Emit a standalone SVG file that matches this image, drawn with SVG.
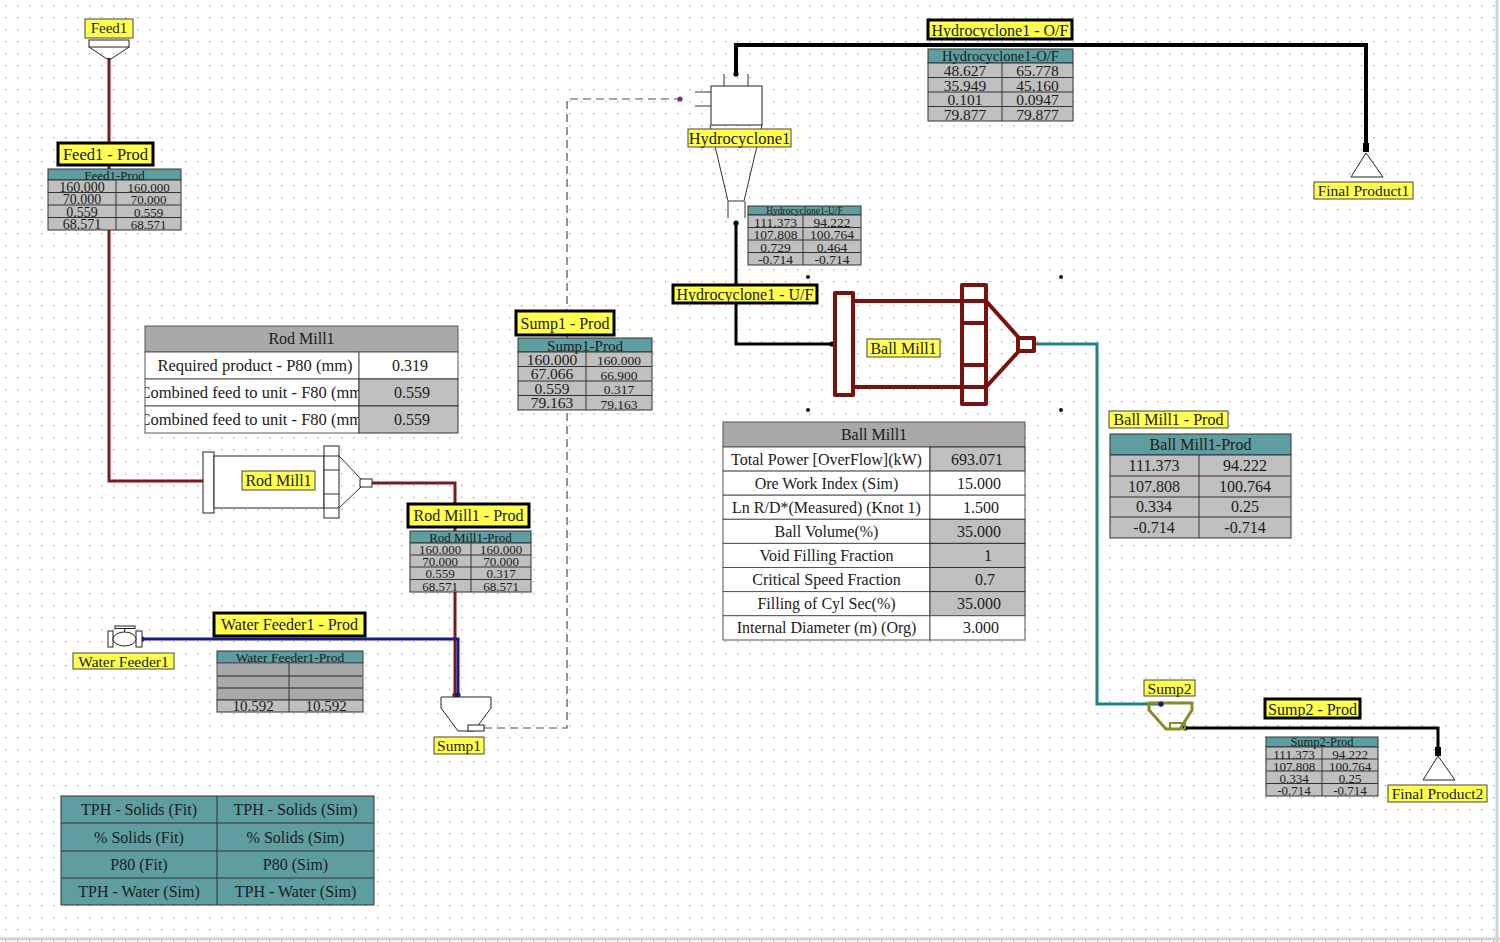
<svg xmlns="http://www.w3.org/2000/svg" width="1500" height="942" viewBox="0 0 1500 942">
<defs>
<pattern id="grid" width="12" height="12" patternUnits="userSpaceOnUse">
<rect x="5" y="5" width="1.3" height="1.3" fill="#a4a4a4"/>
</pattern>
<clipPath id="rmclip1"><rect x="145" y="379" width="214" height="27"/></clipPath>
<clipPath id="rmclip2"><rect x="145" y="406" width="214" height="27"/></clipPath>
<marker id="dot" viewBox="0 0 6 6" refX="3" refY="3" markerWidth="6" markerHeight="6" markerUnits="userSpaceOnUse"><circle cx="3" cy="3" r="2.6" fill="context-stroke"/></marker>
</defs>
<style>
.t{font-family:"Liberation Serif","Times New Roman",serif;fill:#1a1a1a;text-anchor:middle}
.lbl{fill:#ffff50;stroke:#444;stroke-width:1}
.lblb{fill:#ffff50;stroke:#000;stroke-width:3}
.teal{fill:#5f9ea0;stroke:#333;stroke-width:1}
.g{fill:#c0c0c0;stroke:#333;stroke-width:1}
.gd{fill:#a9a9a9;stroke:#555;stroke-width:1}
.w{fill:#ffffff;stroke:#555;stroke-width:1}
.ln{stroke:#333;stroke-width:1}
.eq{fill:#fff;stroke:#222;stroke-width:1}
.red{fill:none;stroke:#7a1a1a;stroke-width:3}
.blue{fill:none;stroke:#1a1a86;stroke-width:3}
.blk{fill:none;stroke:#000;stroke-width:3}
.tealc{fill:none;stroke:#1f8085;stroke-width:3}
.dash{fill:none;stroke:#6a3a6a;stroke-width:1.2;stroke-dasharray:8 5}
.bm{fill:#fff;stroke:#7a1010;stroke-width:4;stroke-linejoin:round}
</style>
<rect width="1500" height="942" fill="#ffffff"/>
<rect width="1500" height="942" fill="url(#grid)"/>
<line x1="1497" y1="0" x2="1497" y2="942" stroke="#c8d4dc" stroke-width="3"/>
<line x1="0" y1="939" x2="1500" y2="939" stroke="#d0d0d0" stroke-width="3"/>

<!-- connectors -->
<g id="connectors">
<polyline class="red" points="109,58 109,481 205,481" marker-end="url(#dot)"/>
<polyline class="red" points="372,483 455,483 455,695" marker-end="url(#dot)"/>
<polyline class="blue" points="142,639 458,639 458,695" marker-start="url(#dot)" marker-end="url(#dot)"/>
<polyline class="dash" points="484,728 567,728 567,99 680,99" marker-end="url(#dot)"/>
<polyline class="blk" style="stroke-width:4" points="736,74 736,45 1366,45 1366,150" marker-start="url(#dot)"/>
<rect x="1363" y="143" width="6" height="9" fill="#000"/>
<polyline class="blk" points="736,223 736,344 832,344" marker-start="url(#dot)" marker-end="url(#dot)"/>
<polyline class="tealc" points="1034,344 1097,344 1097,704 1161,704" marker-end="url(#dot)"/>
<polyline class="blk" points="1185,728 1438,728 1438,754" marker-start="url(#dot)"/>
<rect x="1435" y="747" width="6" height="9" fill="#000"/>
</g>

<!-- Feed1 -->
<g id="feed1">
<rect x="89" y="40" width="40" height="7" class="eq"/>
<polyline points="89,47 107,59 111,59 129,47" fill="none" stroke="#222" stroke-width="1"/>
<rect x="85" y="19" width="48" height="19" class="lbl"/>
<text class="t" x="109" y="33" font-size="15">Feed1</text>
</g>

<!-- Rod Mill1 -->
<g id="rodmill1">
<rect x="203" y="452" width="11" height="61" class="eq"/>
<rect x="214" y="456" width="110" height="52" class="eq"/>
<rect x="324" y="446" width="15" height="72" class="eq"/>
<line x1="324" y1="456" x2="339" y2="456" class="ln"/>
<line x1="324" y1="470" x2="339" y2="470" class="ln"/>
<line x1="324" y1="494" x2="339" y2="494" class="ln"/>
<line x1="324" y1="508" x2="339" y2="508" class="ln"/>
<line x1="339" y1="456" x2="361" y2="479" class="ln"/>
<line x1="339" y1="508" x2="361" y2="487" class="ln"/>
<rect x="360" y="479" width="12" height="8" class="eq"/>
<rect x="242" y="471" width="73" height="19" class="lbl"/>
<text class="t" x="278.5" y="486" font-size="16">Rod Mill1</text>
</g>

<!-- Water Feeder1 -->
<g id="waterfeeder1">
<rect x="108" y="631" width="5" height="16" class="eq"/>
<rect x="136" y="631" width="6" height="16" class="eq"/>
<ellipse cx="124.5" cy="639" rx="11.5" ry="7" class="eq"/>
<line x1="124.5" y1="628" x2="124.5" y2="632" class="ln"/>
<rect x="115" y="626" width="20" height="2.5" class="eq"/>
<rect x="73" y="653" width="101" height="16" class="lbl"/>
<text class="t" x="123.5" y="666.5" font-size="15.5">Water Feeder1</text>
</g>

<!-- Sump1 -->
<g id="sump1">
<polygon points="441,697 491,697 491,708 474,731 458,731 441,708" class="eq"/>
<rect x="468" y="725" width="16" height="6" class="eq"/>
<rect x="434" y="737" width="50" height="17" class="lbl"/>
<text class="t" x="459" y="750.5" font-size="15.5">Sump1</text>
</g>

<!-- Hydrocyclone1 -->
<g id="hydrocyclone1">
<line x1="695" y1="92" x2="711" y2="92" class="ln" stroke="#888"/>
<line x1="695" y1="106" x2="711" y2="106" class="ln"/>
<line x1="724" y1="74" x2="724" y2="86" class="ln"/>
<line x1="748" y1="74" x2="748" y2="86" class="ln"/>
<rect x="711" y="86" width="51" height="39" class="eq"/>
<line x1="710" y1="125" x2="728" y2="201" class="ln"/>
<line x1="762" y1="125" x2="744" y2="201" class="ln"/>
<line x1="728" y1="201" x2="744" y2="201" class="ln"/>
<line x1="728" y1="201" x2="728" y2="218" class="ln"/>
<line x1="745" y1="201" x2="745" y2="218" class="ln"/>
<rect x="688" y="129" width="103" height="18" class="lbl"/>
<text class="t" x="739.5" y="143.5" font-size="16.5">Hydrocyclone1</text>
</g>

<!-- Ball Mill1 -->
<g id="ballmill1">
<line x1="853" y1="301" x2="962" y2="301" class="bm"/>
<line x1="853" y1="387" x2="962" y2="387" class="bm"/>
<rect x="835" y="293" width="18" height="102" class="bm"/>
<rect x="962" y="285" width="24" height="119" class="bm"/>
<line x1="962" y1="301" x2="986" y2="301" class="bm"/>
<line x1="962" y1="323" x2="986" y2="323" class="bm"/>
<line x1="962" y1="365" x2="986" y2="365" class="bm"/>
<line x1="962" y1="387" x2="986" y2="387" class="bm"/>
<line x1="986" y1="301" x2="1019" y2="338" class="bm"/>
<line x1="986" y1="387" x2="1019" y2="351" class="bm"/>
<rect x="1018" y="338" width="16" height="13" class="bm"/>
<rect x="867" y="339" width="73" height="18" class="lbl"/>
<text class="t" x="903.5" y="353.5" font-size="16">Ball Mill1</text>
<circle cx="808" cy="277" r="2" fill="#111"/>
<circle cx="1061" cy="277" r="2" fill="#111"/>
<circle cx="808" cy="410" r="2" fill="#111"/>
<circle cx="1061" cy="410" r="2" fill="#111"/>
</g>

<!-- Sump2 -->
<g id="sump2">
<polygon points="1149,703 1192,703 1192,710 1180,729 1166,729 1149,710" fill="none" stroke="#8a8a2a" stroke-width="3" stroke-linejoin="round"/>
<rect x="1170" y="723" width="15" height="6" fill="none" stroke="#8a8a2a" stroke-width="2"/>
<circle cx="1161" cy="704" r="2.6" fill="#1a1a86"/>
<rect x="1144" y="680" width="51" height="16" class="lbl"/>
<text class="t" x="1169.5" y="693.5" font-size="15.5">Sump2</text>
</g>

<!-- Final Product1 -->
<g id="finalproduct1">
<polygon points="1366,153 1351,177 1383,177" class="eq"/>
<rect x="1314" y="182" width="99" height="17" class="lbl"/>
<text class="t" x="1363.5" y="196" font-size="15.5">Final Product1</text>
</g>

<!-- Final Product2 -->
<g id="finalproduct2">
<polygon points="1438,756 1423,780 1455,780" class="eq"/>
<rect x="1388" y="785" width="99" height="17" class="lbl"/>
<text class="t" x="1437.5" y="799" font-size="15.5">Final Product2</text>
</g>

<!-- stream labels -->
<g id="stream-labels">
<rect x="58" y="143" width="95" height="22" class="lblb"/>
<text class="t" x="105.5" y="160" font-size="16.5">Feed1 - Prod</text>
<rect x="408" y="504" width="121" height="23" class="lblb"/>
<text class="t" x="468.5" y="521" font-size="16">Rod Mill1 - Prod</text>
<rect x="214" y="613" width="151" height="23" class="lblb"/>
<text class="t" x="289.5" y="630" font-size="16">Water Feeder1 - Prod</text>
<rect x="516" y="311" width="98" height="24" class="lblb"/>
<text class="t" x="565" y="328.5" font-size="16">Sump1 - Prod</text>
<rect x="928" y="20" width="144" height="19" class="lblb"/>
<text class="t" x="1000" y="35.5" font-size="16">Hydrocyclone1 - O/F</text>
<rect x="673" y="285" width="144" height="18" class="lblb"/>
<text class="t" x="745" y="300" font-size="16">Hydrocyclone1 - U/F</text>
<rect x="1109" y="411" width="119" height="17" class="lbl"/>
<text class="t" x="1168.5" y="425" font-size="16">Ball Mill1 - Prod</text>
<rect x="1265" y="699" width="95" height="19" class="lblb"/>
<text class="t" x="1312.5" y="714.5" font-size="16">Sump2 - Prod</text>
</g>

<!-- stream tables -->
<g id="table-feed1-prod">
<rect x="48" y="169" width="133" height="11" class="teal"/>
<rect x="48" y="180" width="133" height="50" class="g"/>
<line x1="48" y1="192.5" x2="181" y2="192.5" class="ln"/>
<line x1="48" y1="205" x2="181" y2="205" class="ln"/>
<line x1="48" y1="217.5" x2="181" y2="217.5" class="ln"/>
<line x1="116" y1="180" x2="116" y2="230" class="ln"/>
<text class="t" x="114.5" y="179.5" font-size="13">Feed1-Prod</text>
<text class="t" x="82" y="191.5" font-size="14">160.000</text><text class="t" x="148.5" y="191.5" font-size="13">160.000</text>
<text class="t" x="82" y="204" font-size="14">70.000</text><text class="t" x="148.5" y="204" font-size="13">70.000</text>
<text class="t" x="82" y="216.5" font-size="14">0.559</text><text class="t" x="148.5" y="216.5" font-size="13">0.559</text>
<text class="t" x="82" y="229" font-size="14">68.571</text><text class="t" x="148.5" y="229" font-size="13">68.571</text>
</g>

<g id="table-rodmill1-prod">
<rect x="410" y="531" width="121" height="12" class="teal"/>
<rect x="410" y="543" width="121" height="49" class="g"/>
<line x1="410" y1="555" x2="531" y2="555" class="ln"/>
<line x1="410" y1="567" x2="531" y2="567" class="ln"/>
<line x1="410" y1="579.5" x2="531" y2="579.5" class="ln"/>
<line x1="471" y1="543" x2="471" y2="592" class="ln"/>
<text class="t" x="470.5" y="542" font-size="13">Rod Mill1-Prod</text>
<text class="t" x="440" y="554" font-size="13">160.000</text><text class="t" x="501" y="554" font-size="13">160.000</text>
<text class="t" x="440" y="566" font-size="13">70.000</text><text class="t" x="501" y="566" font-size="13">70.000</text>
<text class="t" x="440" y="578" font-size="13">0.559</text><text class="t" x="501" y="578" font-size="13">0.317</text>
<text class="t" x="440" y="590.5" font-size="13">68.571</text><text class="t" x="501" y="590.5" font-size="13">68.571</text>
</g>

<g id="table-waterfeeder1-prod">
<rect x="217" y="651" width="146" height="12" class="teal"/>
<rect x="217" y="663" width="146" height="37" class="gd"/>
<rect x="217" y="700" width="146" height="12" class="g"/>
<line x1="217" y1="676" x2="363" y2="676" stroke="#666" stroke-width="2"/>
<line x1="217" y1="688" x2="363" y2="688" stroke="#666" stroke-width="2"/>
<line x1="289" y1="663" x2="289" y2="712" class="ln"/>
<text class="t" x="290" y="662" font-size="13.5">Water Feeder1-Prod</text>
<text class="t" x="253" y="711" font-size="15">10.592</text><text class="t" x="326" y="711" font-size="15">10.592</text>
</g>

<g id="table-sump1-prod">
<rect x="518" y="338" width="134" height="14" class="teal"/>
<rect x="518" y="352" width="134" height="58" class="g"/>
<line x1="518" y1="366.5" x2="652" y2="366.5" class="ln"/>
<line x1="518" y1="381" x2="652" y2="381" class="ln"/>
<line x1="518" y1="395.5" x2="652" y2="395.5" class="ln"/>
<line x1="586" y1="352" x2="586" y2="410" class="ln"/>
<text class="t" x="585" y="350.5" font-size="15">Sump1-Prod</text>
<text class="t" x="552" y="364.5" font-size="15.5">160.000</text><text class="t" x="619" y="365" font-size="13.5">160.000</text>
<text class="t" x="552" y="379" font-size="15.5">67.066</text><text class="t" x="619" y="379.5" font-size="13.5">66.900</text>
<text class="t" x="552" y="393.5" font-size="15.5">0.559</text><text class="t" x="619" y="394" font-size="13.5">0.317</text>
<text class="t" x="552" y="408" font-size="15.5">79.163</text><text class="t" x="619" y="408.5" font-size="13.5">79.163</text>
</g>

<g id="table-hydrocyclone1-of">
<rect x="928" y="49" width="145" height="14" class="teal"/>
<rect x="928" y="63" width="145" height="58" class="g"/>
<line x1="928" y1="77.5" x2="1073" y2="77.5" class="ln"/>
<line x1="928" y1="92" x2="1073" y2="92" class="ln"/>
<line x1="928" y1="106.5" x2="1073" y2="106.5" class="ln"/>
<line x1="1002" y1="63" x2="1002" y2="121" class="ln"/>
<text class="t" x="1000.5" y="61" font-size="14.5">Hydrocyclone1-O/F</text>
<text class="t" x="965" y="76" font-size="15.5">48.627</text><text class="t" x="1037.5" y="76" font-size="15.5">65.778</text>
<text class="t" x="965" y="90.5" font-size="15.5">35.949</text><text class="t" x="1037.5" y="90.5" font-size="15.5">45.160</text>
<text class="t" x="965" y="105" font-size="15.5">0.101</text><text class="t" x="1037.5" y="105" font-size="15.5">0.0947</text>
<text class="t" x="965" y="119.5" font-size="15.5">79.877</text><text class="t" x="1037.5" y="119.5" font-size="15.5">79.877</text>
</g>

<g id="table-hydrocyclone1-uf">
<rect x="748" y="206" width="113" height="9" class="teal"/>
<rect x="748" y="215" width="113" height="50" class="g"/>
<line x1="748" y1="227.5" x2="861" y2="227.5" class="ln"/>
<line x1="748" y1="240" x2="861" y2="240" class="ln"/>
<line x1="748" y1="252.5" x2="861" y2="252.5" class="ln"/>
<line x1="803" y1="215" x2="803" y2="265" class="ln"/>
<text class="t" x="804.5" y="213.5" font-size="9.5">Hydrocyclone1-U/F</text>
<text class="t" x="775.5" y="226.5" font-size="13.5">111.373</text><text class="t" x="832" y="226.5" font-size="13.5">94.222</text>
<text class="t" x="775.5" y="239" font-size="13.5">107.808</text><text class="t" x="832" y="239" font-size="13.5">100.764</text>
<text class="t" x="775.5" y="251.5" font-size="13.5">0.729</text><text class="t" x="832" y="251.5" font-size="13.5">0.464</text>
<text class="t" x="775.5" y="264" font-size="13.5">-0.714</text><text class="t" x="832" y="264" font-size="13.5">-0.714</text>
</g>

<g id="table-ballmill1-prod">
<rect x="1110" y="434" width="181" height="21" class="teal"/>
<rect x="1110" y="455" width="181" height="83" class="g"/>
<line x1="1110" y1="476" x2="1291" y2="476" class="ln"/>
<line x1="1110" y1="497" x2="1291" y2="497" class="ln"/>
<line x1="1110" y1="517" x2="1291" y2="517" class="ln"/>
<line x1="1199" y1="455" x2="1199" y2="538" class="ln"/>
<text class="t" x="1200.5" y="450" font-size="16">Ball Mill1-Prod</text>
<text class="t" x="1154" y="470.5" font-size="16">111.373</text><text class="t" x="1245" y="470.5" font-size="16">94.222</text>
<text class="t" x="1154" y="491.5" font-size="16">107.808</text><text class="t" x="1245" y="491.5" font-size="16">100.764</text>
<text class="t" x="1154" y="512" font-size="16">0.334</text><text class="t" x="1245" y="512" font-size="16">0.25</text>
<text class="t" x="1154" y="532.5" font-size="16">-0.714</text><text class="t" x="1245" y="532.5" font-size="16">-0.714</text>
</g>

<g id="table-sump2-prod">
<rect x="1266" y="737" width="112" height="10" class="teal"/>
<rect x="1266" y="747" width="112" height="49" class="g"/>
<line x1="1266" y1="759" x2="1378" y2="759" class="ln"/>
<line x1="1266" y1="771" x2="1378" y2="771" class="ln"/>
<line x1="1266" y1="783.5" x2="1378" y2="783.5" class="ln"/>
<line x1="1322" y1="747" x2="1322" y2="796" class="ln"/>
<text class="t" x="1322" y="746" font-size="12.5">Sump2-Prod</text>
<text class="t" x="1294" y="758.5" font-size="13">111.373</text><text class="t" x="1350" y="758.5" font-size="13">94.222</text>
<text class="t" x="1294" y="770.5" font-size="13">107.808</text><text class="t" x="1350" y="770.5" font-size="13">100.764</text>
<text class="t" x="1294" y="782.5" font-size="13">0.334</text><text class="t" x="1350" y="782.5" font-size="13">0.25</text>
<text class="t" x="1294" y="794.5" font-size="13">-0.714</text><text class="t" x="1350" y="794.5" font-size="13">-0.714</text>
</g>

<!-- unit parameter tables -->
<g id="table-rodmill1">
<rect x="145" y="326" width="313" height="26" class="gd"/>
<rect x="145" y="352" width="214" height="27" class="w"/>
<rect x="359" y="352" width="99" height="27" class="w"/>
<rect x="145" y="379" width="214" height="27" class="w"/>
<rect x="359" y="379" width="99" height="27" class="g"/>
<rect x="145" y="406" width="214" height="27" class="w"/>
<rect x="359" y="406" width="99" height="27" class="g"/>
<text class="t" x="301.5" y="344" font-size="16">Rod Mill1</text>
<text class="t" x="255" y="371" font-size="16.5">Required product - P80 (mm)</text>
<text class="t" x="410" y="371" font-size="16">0.319</text>
<g clip-path="url(#rmclip1)"><text class="t" x="253.5" y="398" font-size="16.5">Combined feed to unit - F80 (mm)</text></g>
<text class="t" x="412" y="398" font-size="16">0.559</text>
<g clip-path="url(#rmclip2)"><text class="t" x="253.5" y="425" font-size="16.5">Combined feed to unit - F80 (mm)</text></g>
<text class="t" x="412" y="425" font-size="16">0.559</text>
</g>

<g id="table-ballmill1">
<rect x="723" y="422" width="302" height="25" class="gd"/>
<text class="t" x="874" y="439.5" font-size="16">Ball Mill1</text>
<rect x="723" y="447" width="207" height="24.1" class="w"/><rect x="930" y="447" width="95" height="24.1" class="g"/>
<rect x="723" y="471.1" width="207" height="24.1" class="w"/><rect x="930" y="471.1" width="95" height="24.1" class="w"/>
<rect x="723" y="495.2" width="207" height="24.1" class="w"/><rect x="930" y="495.2" width="95" height="24.1" class="w"/>
<rect x="723" y="519.3" width="207" height="24.1" class="w"/><rect x="930" y="519.3" width="95" height="24.1" class="g"/>
<rect x="723" y="543.4" width="207" height="24.1" class="w"/><rect x="930" y="543.4" width="95" height="24.1" class="g"/>
<rect x="723" y="567.5" width="207" height="24.1" class="w"/><rect x="930" y="567.5" width="95" height="24.1" class="g"/>
<rect x="723" y="591.6" width="207" height="24.1" class="w"/><rect x="930" y="591.6" width="95" height="24.1" class="g"/>
<rect x="723" y="615.7" width="207" height="24.3" class="w"/><rect x="930" y="615.7" width="95" height="24.3" class="w"/>
<text class="t" x="826.5" y="464.5" font-size="16">Total Power [OverFlow](kW)</text><text class="t" x="977" y="464.5" font-size="16">693.071</text>
<text class="t" x="826.5" y="488.5" font-size="16">Ore Work Index (Sim)</text><text class="t" x="979" y="488.5" font-size="16">15.000</text>
<text class="t" x="826.5" y="512.5" font-size="16">Ln R/D*(Measured) (Knot 1)</text><text class="t" x="981" y="512.5" font-size="16">1.500</text>
<text class="t" x="826.5" y="536.5" font-size="16">Ball Volume(%)</text><text class="t" x="979" y="536.5" font-size="16">35.000</text>
<text class="t" x="826.5" y="561" font-size="16">Void Filling Fraction</text><text class="t" x="988" y="561" font-size="16">1</text>
<text class="t" x="826.5" y="585" font-size="16">Critical Speed Fraction</text><text class="t" x="985" y="585" font-size="16">0.7</text>
<text class="t" x="826.5" y="609" font-size="16">Filling of Cyl Sec(%)</text><text class="t" x="979" y="609" font-size="16">35.000</text>
<text class="t" x="826.5" y="633" font-size="16">Internal Diameter (m) (Org)</text><text class="t" x="981" y="633" font-size="16">3.000</text>
</g>

<!-- legend -->
<g id="legend">
<rect x="61" y="796" width="313" height="109" class="teal"/>
<line x1="61" y1="823" x2="374" y2="823" class="ln"/>
<line x1="61" y1="851" x2="374" y2="851" class="ln"/>
<line x1="61" y1="878" x2="374" y2="878" class="ln"/>
<line x1="217" y1="796" x2="217" y2="905" class="ln"/>
<text class="t" x="139" y="815" font-size="16">TPH - Solids (Fit)</text><text class="t" x="295.5" y="815" font-size="16">TPH - Solids (Sim)</text>
<text class="t" x="139" y="842.5" font-size="16">% Solids (Fit)</text><text class="t" x="295.5" y="842.5" font-size="16">% Solids (Sim)</text>
<text class="t" x="139" y="869.5" font-size="16">P80 (Fit)</text><text class="t" x="295.5" y="869.5" font-size="16">P80 (Sim)</text>
<text class="t" x="139" y="896.5" font-size="16">TPH - Water (Sim)</text><text class="t" x="295.5" y="896.5" font-size="16">TPH - Water (Sim)</text>
</g>
</svg>
